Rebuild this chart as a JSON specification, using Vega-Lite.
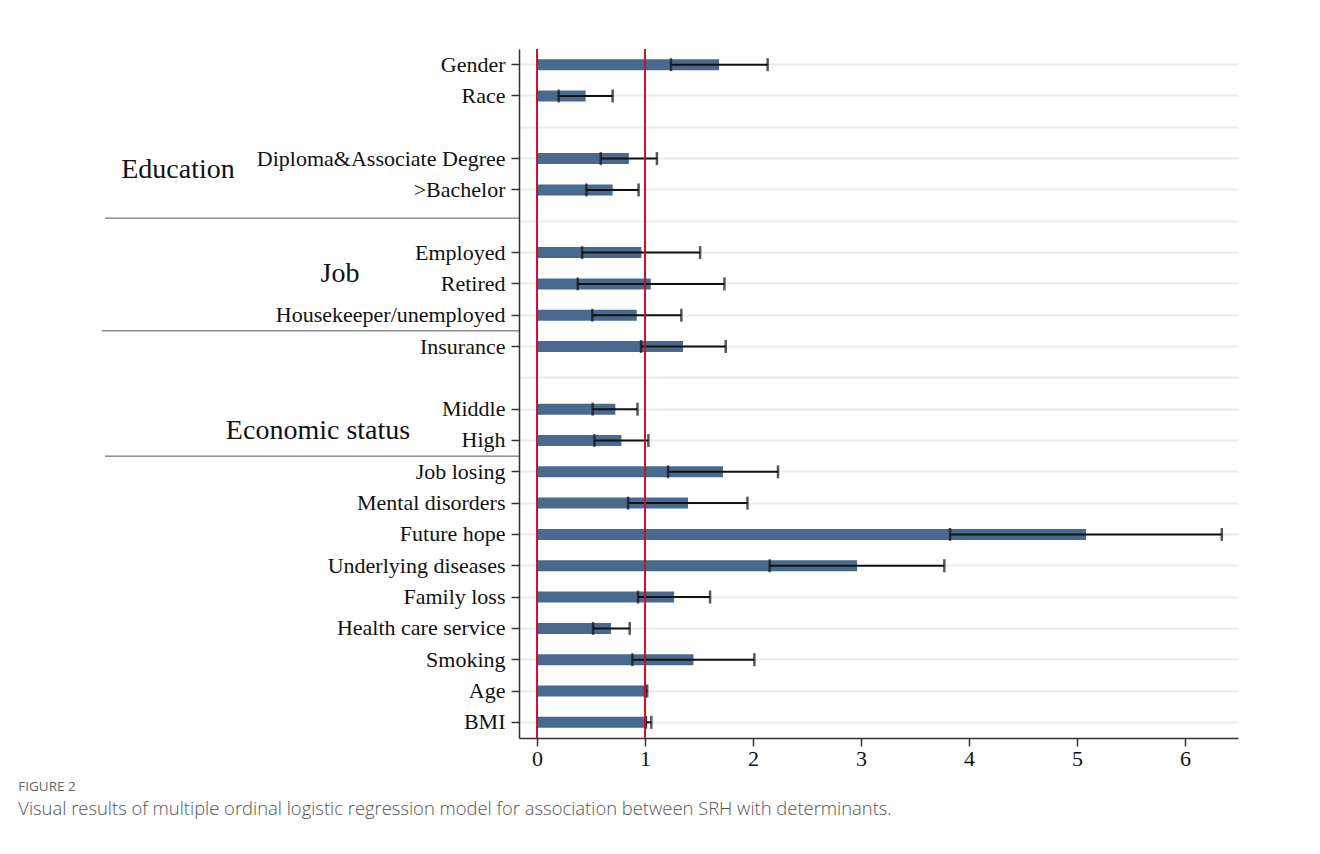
{
  "$schema": "https://vega.github.io/schema/vega-lite/v6.json",
  "width": 719,
  "height": 689,
  "padding": {"left": 18, "top": 48, "right": 10, "bottom": 10},
  "background": "white",
  "config": {"font": "Liberation Serif", "view": {"stroke": null}},
  "datasets": {
    "rows": [
      {"label": "Gender", "or": 1.685, "lo": 1.24, "hi": 2.135},
      {"label": "Race", "or": 0.45, "lo": 0.2, "hi": 0.7},
      {"label": " ", "or": null, "lo": null, "hi": null},
      {"label": "Diploma&Associate Degree", "or": 0.85, "lo": 0.59, "hi": 1.11},
      {"label": ">Bachelor", "or": 0.7, "lo": 0.457, "hi": 0.94},
      {"label": "  ", "or": null, "lo": null, "hi": null},
      {"label": "Employed", "or": 0.966, "lo": 0.417, "hi": 1.51},
      {"label": "Retired", "or": 1.053, "lo": 0.377, "hi": 1.735},
      {"label": "Housekeeper/unemployed", "or": 0.923, "lo": 0.512, "hi": 1.336},
      {"label": "Insurance", "or": 1.352, "lo": 0.963, "hi": 1.747},
      {"label": "   ", "or": null, "lo": null, "hi": null},
      {"label": "Middle", "or": 0.725, "lo": 0.515, "hi": 0.93},
      {"label": "High", "or": 0.781, "lo": 0.531, "hi": 1.031},
      {"label": "Job losing", "or": 1.722, "lo": 1.213, "hi": 2.231},
      {"label": "Mental disorders", "or": 1.398, "lo": 0.843, "hi": 1.948},
      {"label": "Future hope", "or": 5.083, "lo": 3.824, "hi": 6.34},
      {"label": "Underlying diseases", "or": 2.963, "lo": 2.154, "hi": 3.771},
      {"label": "Family loss", "or": 1.269, "lo": 0.935, "hi": 1.602},
      {"label": "Health care service", "or": 0.685, "lo": 0.519, "hi": 0.858},
      {"label": "Smoking", "or": 1.448, "lo": 0.883, "hi": 2.012},
      {"label": "Age", "or": 1.015, "lo": 1.0, "hi": 1.02},
      {"label": "BMI", "or": 1.018, "lo": 1.008, "hi": 1.058}
    ],
    "refs": [{"x": 0}, {"x": 1}],
    "sepA": [{"label": "  ", "x": -4.0, "x2": -0.167}],
    "sepB": [
      {"label": "Insurance", "x": -4.03, "x2": -0.167},
      {"label": "Job losing", "x": -4.0, "x2": -0.167}
    ],
    "grpA": [{"label": "Diploma&Associate Degree", "x": -3.324, "name": "Education"}],
    "grpB": [
      {"label": "Retired", "x": -1.824, "name": "Job"},
      {"label": "High", "x": -2.028, "name": "Economic status"}
    ]
  },
  "title": {
    "text": "FIGURE 2",
    "subtitle": "Visual results of multiple ordinal logistic regression model for association between SRH with determinants.",
    "orient": "bottom",
    "anchor": "start",
    "frame": "bounds",
    "font": "Open Sans",
    "fontSize": 13.5,
    "fontWeight": "normal",
    "color": "#666666",
    "subtitleFont": "Open Sans",
    "subtitleFontSize": 18.4,
    "subtitleFontWeight": 300,
    "subtitleColor": "#555555",
    "subtitlePadding": 6,
    "offset": 11,
    "dx": -83
  },
  "layer": [
    {
      "data": {"name": "rows"},
      "mark": {"type": "bar", "size": 11, "color": "#486a8e"},
      "encoding": {
        "y": {
          "field": "label",
          "type": "nominal",
          "title": null,
          "scale": {
            "domain": ["Gender", "Race", " ", "Diploma&Associate Degree", ">Bachelor", "  ", "Employed", "Retired", "Housekeeper/unemployed", "Insurance", "   ", "Middle", "High", "Job losing", "Mental disorders", "Future hope", "Underlying diseases", "Family loss", "Health care service", "Smoking", "Age", "BMI"],
            "paddingInner": 0,
            "paddingOuter": 0
          },
          "axis": {
            "bandPosition": 0.5,
            "labelFont": "Liberation Serif",
            "labelFontSize": 22,
            "labelLimit": 0,
            "labelColor": "#111111",
            "labelPadding": 6,
            "tickSize": 8,
            "tickWidth": 1.5,
            "tickColor": {"condition": {"test": "trim(datum.value) == ''", "value": "transparent"}, "value": "#333333"},
            "domainColor": "#333333",
            "domainWidth": 1.5,
            "grid": true,
            "gridColor": "#e8ecee",
            "gridWidth": 2
          }
        },
        "x": {
          "field": "or",
          "type": "quantitative",
          "title": null,
          "scale": {"domain": [-0.167, 6.49], "nice": false, "zero": false},
          "axis": {
            "values": [0, 1, 2, 3, 4, 5, 6],
            "format": "d",
            "labelFont": "Liberation Serif",
            "labelFontSize": 22,
            "labelColor": "#111111",
            "labelPadding": 2,
            "tickSize": 8,
            "tickWidth": 1.5,
            "tickColor": "#333333",
            "domainColor": "#333333",
            "domainWidth": 1.5,
            "grid": false
          }
        }
      }
    },
    {
      "data": {"name": "rows"},
      "mark": {"type": "rule", "color": "#111111", "strokeWidth": 2},
      "encoding": {
        "y": {"field": "label", "type": "nominal"},
        "x": {"field": "lo", "type": "quantitative"},
        "x2": {"field": "hi"}
      }
    },
    {
      "data": {"name": "rows"},
      "mark": {"type": "tick", "color": "#111111", "thickness": 2.5, "size": 13},
      "encoding": {
        "y": {"field": "label", "type": "nominal"},
        "x": {"field": "lo", "type": "quantitative"}
      }
    },
    {
      "data": {"name": "rows"},
      "mark": {"type": "tick", "color": "#111111", "thickness": 2.5, "size": 13},
      "encoding": {
        "y": {"field": "label", "type": "nominal"},
        "x": {"field": "hi", "type": "quantitative"}
      }
    },
    {
      "data": {"name": "refs"},
      "mark": {"type": "rule", "color": "#c8102e", "strokeWidth": 2},
      "encoding": {
        "x": {"field": "x", "type": "quantitative"}
      }
    },
    {
      "data": {"name": "sepA"},
      "mark": {"type": "rule", "color": "#555555", "strokeWidth": 1},
      "encoding": {
        "y": {"field": "label", "type": "nominal", "bandPosition": 0.4},
        "x": {"field": "x", "type": "quantitative"},
        "x2": {"field": "x2"}
      }
    },
    {
      "data": {"name": "sepB"},
      "mark": {"type": "rule", "color": "#555555", "strokeWidth": 1},
      "encoding": {
        "y": {"field": "label", "type": "nominal", "bandPosition": 0},
        "x": {"field": "x", "type": "quantitative"},
        "x2": {"field": "x2"}
      }
    },
    {
      "data": {"name": "grpA"},
      "mark": {"type": "text", "font": "Liberation Serif", "fontSize": 28, "align": "center", "baseline": "middle", "color": "#111111"},
      "encoding": {
        "y": {"field": "label", "type": "nominal", "bandPosition": 0.85},
        "x": {"field": "x", "type": "quantitative"},
        "text": {"field": "name"}
      }
    },
    {
      "data": {"name": "grpB"},
      "mark": {"type": "text", "font": "Liberation Serif", "fontSize": 28, "align": "center", "baseline": "middle", "color": "#111111"},
      "encoding": {
        "y": {"field": "label", "type": "nominal", "bandPosition": 0.2},
        "x": {"field": "x", "type": "quantitative"},
        "text": {"field": "name"}
      }
    }
  ]
}
